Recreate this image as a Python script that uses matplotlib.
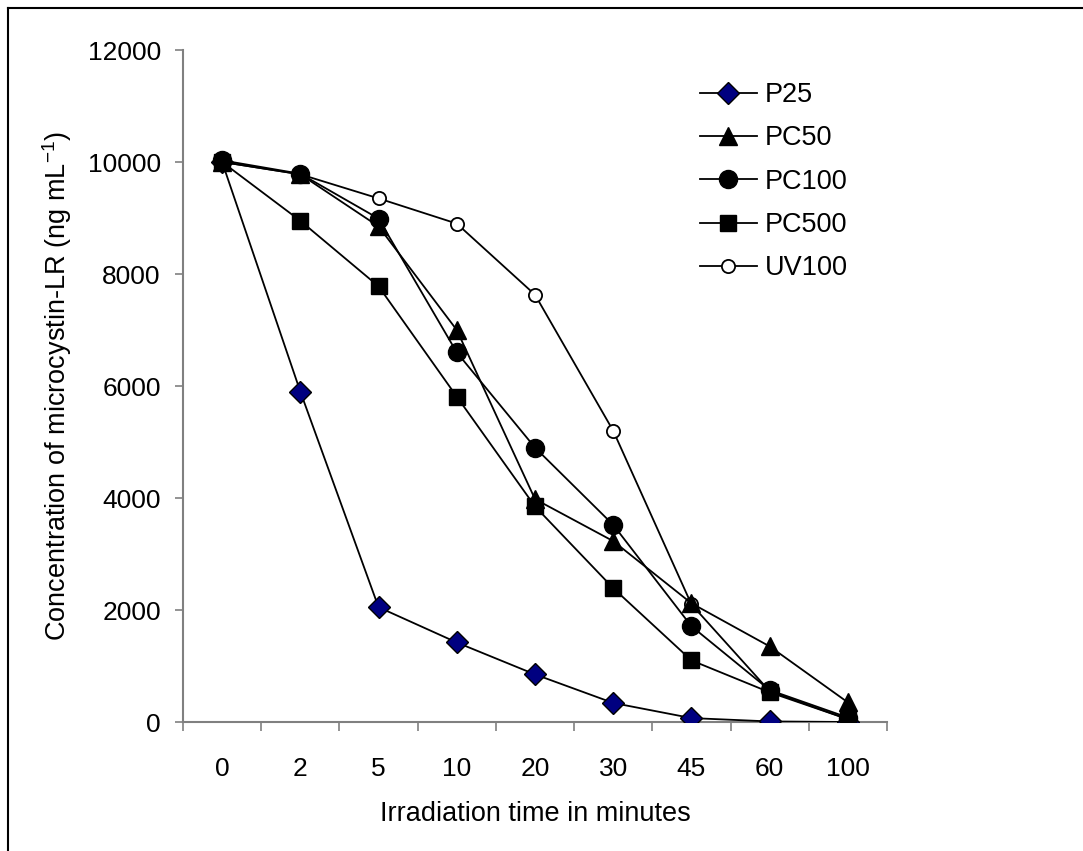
import matplotlib
matplotlib.use("Agg")
import matplotlib.pyplot as plt
import numpy as np
from matplotlib.lines import Line2D

plt.rcParams['font.family'] = ['Liberation Sans', 'DejaVu Sans']

categories = ['0', '2', '5', '10', '20', '30', '45', '60', '100']
p25 = [10000, 5900, 2050, 1420, 850, 340, 70, 10, 0]
pc50 = [10000, 9780, 8850, 7000, 3980, 3230, 2120, 1350, 350]
pc100 = [10030, 9790, 8990, 6600, 4900, 3520, 1710, 570, 80]
pc500 = [10000, 8950, 7780, 5810, 3850, 2390, 1100, 530, 50]
uv100 = [10000, 9780, 9350, 8900, 7630, 5200, 2100, 550, 50]
y_ticks = [0, 2000, 4000, 6000, 8000, 10000, 12000]

W, H = 1083, 851
fig = plt.figure(figsize=(W / 100, H / 100), dpi=100)
ax = fig.add_axes([183 / W, 1 - 722 / H, (887 - 183) / W, (722 - 50) / H])

x = np.arange(len(categories))
lw = 1.3
ax.plot(x, p25, '-', color='black', lw=lw, marker='D', markersize=11,
        markerfacecolor='#000080', markeredgecolor='black', markeredgewidth=1.0,
        label='P25', zorder=3)
ax.plot(x, pc50, '-', color='black', lw=lw, marker='^', markersize=13.5,
        markerfacecolor='black', markeredgecolor='black', label='PC50', zorder=4)
ax.plot(x, pc100, '-', color='black', lw=lw, marker='o', markersize=13,
        markerfacecolor='black', markeredgecolor='black', label='PC100', zorder=5)
ax.plot(x, pc500, '-', color='black', lw=lw, marker='s', markersize=12,
        markerfacecolor='black', markeredgecolor='black', label='PC500', zorder=6)
ax.plot(x, uv100, '-', color='black', lw=lw, marker='o', markersize=9.5,
        markerfacecolor='white', markeredgecolor='black', markeredgewidth=1.3,
        label='UV100', zorder=2)

ax.set_xlim(-0.5, len(categories) - 0.5)
ax.set_ylim(0, 12000)
ax.set_yticks(y_ticks)
ax.set_yticklabels([str(v) for v in y_ticks])
ax.set_xticks(x)
ax.set_xticklabels(categories)
ax.set_xticks(np.arange(-0.5, len(categories)), minor=True)

for s in ['top', 'right']:
    ax.spines[s].set_visible(False)
for s in ['left', 'bottom']:
    ax.spines[s].set_color('#808080')
    ax.spines[s].set_linewidth(1.5)

fs = 19.5
ax.tick_params(axis='y', which='major', direction='out', length=6, width=1.2,
               color='#808080', labelsize=19, pad=10)
ax.tick_params(axis='x', which='major', length=0, labelsize=19, pad=25)
ax.tick_params(axis='x', which='minor', direction='out', length=6.5, width=1.2,
               color='#808080')

ax.set_xlabel('Irradiation time in minutes', fontsize=fs)
ax.set_ylabel('Concentration of microcystin-LR (ng mL$^{\\mathregular{-1}}$)', fontsize=fs)
ax.xaxis.set_label_coords(0.5, -0.118)
ax.yaxis.set_label_coords(-0.155, 0.5)

leg = ax.legend(loc='upper left', bbox_to_anchor=(700 / W, 1 - 82 / H),
                bbox_transform=fig.transFigure, frameon=False, fontsize=fs,
                handlelength=2.1, handletextpad=0.3, labelspacing=0.64,
                borderpad=0, borderaxespad=0)

fig.add_artist(Line2D([8 / W, 8 / W], [0, 1 - 8 / H], transform=fig.transFigure,
                      color='black', lw=1.5))
fig.add_artist(Line2D([8 / W, 1], [1 - 8 / H, 1 - 8 / H], transform=fig.transFigure,
                      color='black', lw=1.5))

fig.savefig('out.png', dpi=100)
